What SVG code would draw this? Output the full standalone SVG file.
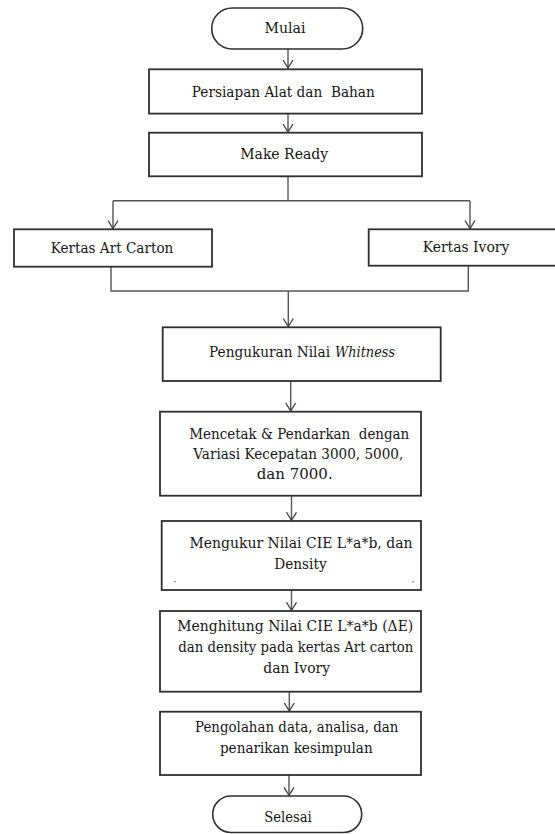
<svg xmlns="http://www.w3.org/2000/svg" width="555" height="834" viewBox="0 0 555 834">
  <style>
    .box { fill: #ffffff; stroke: #2f2f2f; stroke-width: 1.8; }
    .term { fill: #ffffff; stroke: #2f2f2f; stroke-width: 1.6; }
    .lbl { font-family: "DejaVu Serif", "Liberation Serif", "Noto Serif", serif; font-size: 14.5px; fill: #161616; text-anchor: middle; white-space: pre; }
    .wire { fill: none; stroke: #555555; stroke-width: 1.4; }
  </style>
  <defs>
    <marker id="arr" markerWidth="12" markerHeight="12" refX="9" refY="6" orient="auto" markerUnits="userSpaceOnUse">
      <path d="M1,1 L9,6 L1,11" fill="none" stroke="#444444" stroke-width="1.4"/>
    </marker>
  </defs>
  <rect width="555" height="834" fill="#ffffff"/>

  <!-- connectors -->
  <g id="connectors" class="wire">
    <path d="M288,49 V68" marker-end="url(#arr)"/>
    <path d="M288,113 V132" marker-end="url(#arr)"/>
    <path d="M288,176 V200.7"/>
    <path d="M113,200.7 H470"/>
    <path d="M113,200.7 V228.5" marker-end="url(#arr)"/>
    <path d="M470,200.7 V228.5" marker-end="url(#arr)"/>
    <path d="M111,266.7 V291 H468.3 V265.7"/>
    <path d="M288.3,291 V326.5" marker-end="url(#arr)"/>
    <path d="M290.7,381 V411" marker-end="url(#arr)"/>
    <path d="M291.5,495.7 V520.3" marker-end="url(#arr)"/>
    <path d="M291.5,590 V610.3" marker-end="url(#arr)"/>
    <path d="M289.3,691.7 V711" marker-end="url(#arr)"/>
    <path d="M289,775 V795.3" marker-end="url(#arr)"/>
  </g>

  <g id="mulai">
    <rect class="term" x="211.7" y="8" width="151" height="41" rx="20.5" ry="20.5"/>
    <text class="lbl" x="285" y="33.3" textLength="41" lengthAdjust="spacingAndGlyphs">Mulai</text>
  </g>

  <g id="persiapan">
    <rect class="box" x="149" y="69.3" width="273" height="44.3"/>
    <text class="lbl" x="283.3" y="96.7" textLength="183" lengthAdjust="spacingAndGlyphs">Persiapan Alat dan  Bahan</text>
  </g>

  <g id="make-ready">
    <rect class="box" x="149" y="132.7" width="273" height="43.6"/>
    <text class="lbl" x="284.2" y="159.3" textLength="88" lengthAdjust="spacingAndGlyphs">Make Ready</text>
  </g>

  <g id="art-carton">
    <rect class="box" x="14" y="229.3" width="198" height="37.4"/>
    <text class="lbl" x="112" y="253.3" textLength="122.7" lengthAdjust="spacingAndGlyphs">Kertas Art Carton</text>
  </g>

  <g id="ivory">
    <rect class="box" x="368.7" y="229.3" width="206" height="36.4"/>
    <text class="lbl" x="466" y="252.3" textLength="86.7" lengthAdjust="spacingAndGlyphs">Kertas Ivory</text>
  </g>

  <g id="whitness">
    <rect class="box" x="162.7" y="327.3" width="278" height="53.7"/>
    <text class="lbl" x="209" y="356.7" text-anchor="start" style="text-anchor:start" textLength="121" lengthAdjust="spacingAndGlyphs">Pengukuran Nilai</text>
    <text class="lbl" x="335" y="356.7" style="text-anchor:start; font-style:italic" textLength="60" lengthAdjust="spacingAndGlyphs">Whitness</text>
  </g>

  <g id="mencetak">
    <rect class="box" x="160" y="411.7" width="261" height="84"/>
    <text class="lbl" x="299.3" y="439" textLength="220" lengthAdjust="spacingAndGlyphs">Mencetak &amp; Pendarkan  dengan</text>
    <text class="lbl" x="298.3" y="459.3" textLength="210" lengthAdjust="spacingAndGlyphs">Variasi Kecepatan 3000, 5000,</text>
    <text class="lbl" x="294.7" y="479.3" textLength="76" lengthAdjust="spacingAndGlyphs">dan 7000.</text>
  </g>

  <g id="mengukur">
    <rect class="box" x="161.7" y="521" width="259.3" height="69"/>
    <text class="lbl" x="301" y="547.7" textLength="223" lengthAdjust="spacingAndGlyphs">Mengukur Nilai CIE L*a*b, dan</text>
    <text class="lbl" x="300.5" y="569.3" textLength="52.4" lengthAdjust="spacingAndGlyphs">Density</text>
    <text class="lbl" x="175" y="582" style="font-size:8px">,</text>
    <text class="lbl" x="413" y="582" style="font-size:8px">,</text>
  </g>

  <g id="menghitung">
    <rect class="box" x="160" y="611" width="261" height="80.7"/>
    <text class="lbl" x="295.3" y="631" textLength="236" lengthAdjust="spacingAndGlyphs">Menghitung Nilai CIE L*a*b (ΔE)</text>
    <text class="lbl" x="295.8" y="651.7" textLength="235" lengthAdjust="spacingAndGlyphs">dan density pada kertas Art carton</text>
    <text class="lbl" x="296.7" y="673.3" textLength="66.7" lengthAdjust="spacingAndGlyphs">dan Ivory</text>
  </g>

  <g id="pengolahan">
    <rect class="box" x="160" y="711.7" width="261" height="63.3"/>
    <text class="lbl" x="296.7" y="731.7" textLength="203.3" lengthAdjust="spacingAndGlyphs">Pengolahan data, analisa, dan</text>
    <text class="lbl" x="296.3" y="753.3" textLength="152.7" lengthAdjust="spacingAndGlyphs">penarikan kesimpulan</text>
  </g>

  <g id="selesai">
    <rect class="term" x="212.7" y="796" width="149" height="36.5" rx="18.2" ry="18.2"/>
    <text class="lbl" x="288" y="821.7" textLength="47.7" lengthAdjust="spacingAndGlyphs">Selesai</text>
  </g>
</svg>
